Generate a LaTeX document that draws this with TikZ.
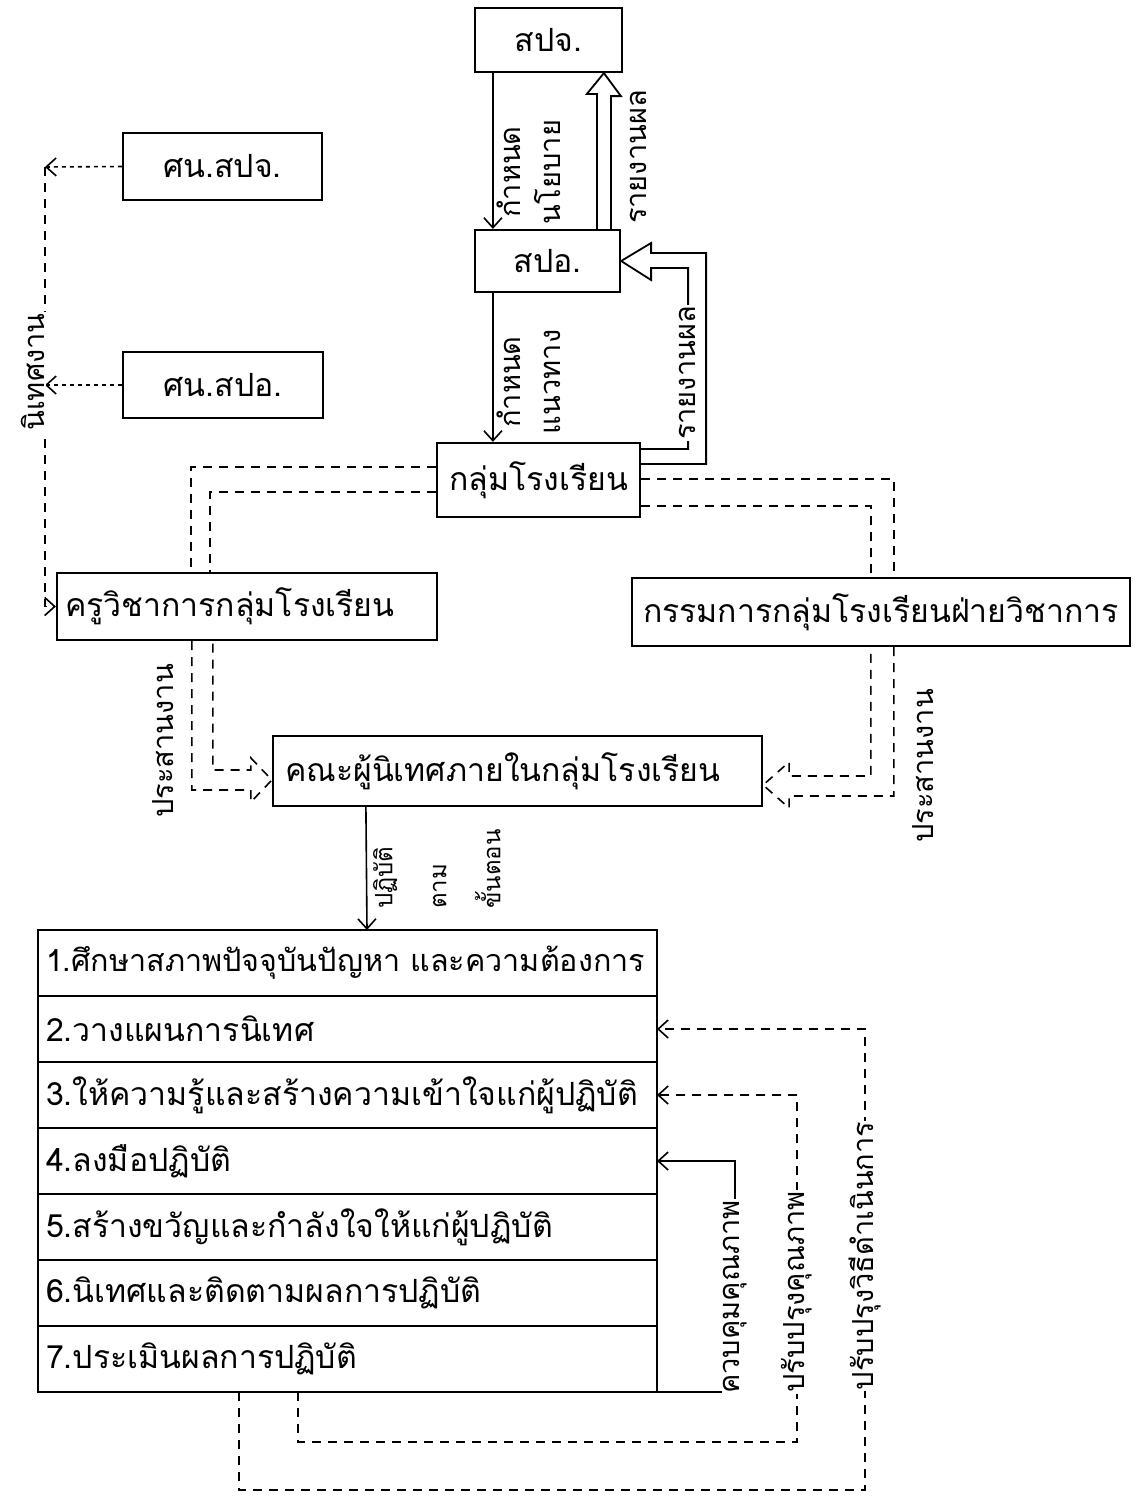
\documentclass[tikz,border=0pt]{standalone}
\usepackage{fontspec}
\newfontfamily\thaifont[Script=Thai]{Loma}
\usetikzlibrary{arrows.meta,positioning,calc}

\begin{document}
\begin{tikzpicture}[
  x=1pt, y=-1pt,
  font=\thaifont\fontsize{32}{40}\selectfont,
  box/.style={draw, line width=2.2pt, align=center, inner sep=6pt},
  row/.style={draw, line width=2pt, outer sep=0pt, minimum width=619pt, minimum height=66pt, text width=603pt, align=left, inner xsep=8pt},
  arr/.style={-{Straight Barb[length=10pt,width=18pt]}, line width=1.6pt},
  hol/.style={line width=1.8pt, line join=miter},
  dsh/.style={dash pattern=on 9pt off 7pt, line width=1.6pt},
  dot/.style={dash pattern=on 4pt off 4pt, line width=1.6pt},
  lab/.style={rotate=90, inner sep=1pt, font=\thaifont\fontsize{29}{40}\selectfont},
  onl/.style={lab, fill=white}
]
\useasboundingbox (0,0) rectangle (1143,1507);

% boxes
\node[box, minimum width=147pt, minimum height=64pt] (spj) at (548.5,40) {สปจ.};
\node[box, minimum width=145pt, minimum height=62pt] (spo) at (547.5,261) {สปอ.};
\node[box, minimum width=199pt, minimum height=67pt] (snspj) at (222.5,166.5) {ศน.สปจ.};
\node[box, minimum width=200pt, minimum height=66pt] (snspo) at (223,385) {ศน.สปอ.};
\node[box, minimum width=203pt, minimum height=74pt] (klum) at (538.5,480) {กลุ่มโรงเรียน};
\node[box, minimum height=67pt, text width=364pt, align=left, inner xsep=8pt] (khru) at (247,606.5) {ครูวิชาการกลุ่มโรงเรียน};
\node[box, minimum width=498pt, minimum height=68pt] (kam) at (881,612) {กรรมการกลุ่มโรงเรียนฝ่ายวิชาการ};
\node[box, minimum height=70pt, text width=465pt, align=left, inner xsep=12pt] (khana) at (517.5,771) {คณะผู้นิเทศภายในกลุ่มโรงเรียน};

% steps
\node[row, font=\thaifont\fontsize{30.5}{40}\selectfont] (r1) at (347.5,963) {1.ศึกษาสภาพปัจจุบันปัญหา และความต้องการ};
\node[row, below=0pt of r1] (r2) {2.วางแผนการนิเทศ};
\node[row, below=0pt of r2] (r3) {3.ให้ความรู้และสร้างความเข้าใจแก่ผู้ปฏิบัติ};
\node[row, below=0pt of r3] (r4) {4.ลงมือปฏิบัติ};
\node[row, below=0pt of r4] (r5) {5.สร้างขวัญและกำลังใจให้แก่ผู้ปฏิบัติ};
\node[row, below=0pt of r5] (r6) {6.นิเทศและติดตามผลการปฏิบัติ};
\node[row, below=0pt of r6] (r7) {7.ประเมินผลการปฏิบัติ};

% top chain
\draw[arr] ($(spj.south west)+(19,0)$) -- ($(spo.north west)+(19,0)$);
\draw[hol] ($(spo.north west)+(123,0)$) -- ++(0,-135) -- ++(-10,0) -- ($(spj.south west)+(130,0)$) -- ++(17,23) -- ++(-10,0) -- ($(spo.north west)+(137,0)$);
\draw[arr] ($(spo.south west)+(19,0)$) -- ($(klum.north west)+(57,0)$);
\draw[hol] ($(klum.north east)+(0,22)$) -- ++(65,0) |- ($(spo.east)+(30,-8)$) -- ++(0,-10) -- (spo.east) -- ++(30,19) -- ++(0,-12) -| ($(klum.north east)+(47,7)$) -- ++(-47,0);

% supervisors
\coordinate (nt) at (45,167);
\draw[dot, arr] (snspj.west) -- (nt);
\draw[dot, arr] (snspo.west) -- (snspo.west -| nt);
\draw[dsh, arr] (nt) |- (khru.west);

% school group to teachers and committee
\draw[dsh] ($(klum.north west)+(0,25)$) -| ($(khru.north west)+(135,0)$);
\draw[dsh] ($(klum.north west)+(0,50)$) -| ($(khru.north west)+(154,0)$);
\draw[dsh] ($(klum.north east)+(0,37)$) -| ($(kam.north west)+(263,0)$);
\draw[dsh] ($(klum.north east)+(0,64)$) -| ($(kam.north west)+(240,0)$);

% coordination into the team
\draw[dsh] ($(khru.south west)+(136,0)$) |- ($(khana.west)+(-21,19)$) -- ++(0,12) -- ($(khana.west)+(0,9)$) -- ++(-21,-22) -- ++(0,12) -| ($(khru.south west)+(157,0)$);
\draw[dsh] ($(kam.south west)+(263,0)$) |- ($(khana.east)+(26,25)$) -- ++(0,12) -- ($(khana.east)+(0,14)$) -- ++(26,-23) -- ++(0,14) -| ($(kam.south west)+(240,0)$);
\draw[arr] ($(khana.south west)+(94,0)$) -- ($(r1.north west)+(329,0)$);

% feedback loops
\draw[arr] (r7.south east) -| ($(r4.east)+(78,0)$) -- (r4.east);
\draw[dsh, arr] ($(r7.south west)+(260,0)$) -- ++(0,50) -| ($(r3.east)+(140,0)$) -- (r3.east);
\draw[dsh, arr] ($(r7.south west)+(201,0)$) -- ++(0,98) -| ($(r2.east)+(208,0)$) -- (r2.east);

% labels
\node[lab, align=center] (pol) at (529,172) {กำหนด\\นโยบาย};
\node[lab] (rep1) at (638,157) {รายงานผล};
\node[lab, align=center] (gui) at (529,382) {กำหนด\\แนวทาง};
\node[onl] (rep2) at (687,373) {รายงานผล};
\node[onl] (sup) at (33,372) {นิเทศงาน};
\node[lab] (co1) at (163,741) {ประสานงาน};
\node[lab] (co2) at (923,766) {ประสานงาน};
\node[lab, anchor=north west, align=left, font=\thaifont\fontsize{24}{54}\selectfont] (stp) at (372,910) {ปฏิบัติ\\ตาม\\ขั้นตอน};
\node[onl] (q1) at (735,1297) {ควบคุมคุณภาพ};
\node[onl] (q2) at (797,1292) {ปรับปรุงคุณภาพ};
\node[onl] (q3) at (865,1256) {ปรับปรุงวิธีดำเนินการ};
\end{tikzpicture}
\end{document}
